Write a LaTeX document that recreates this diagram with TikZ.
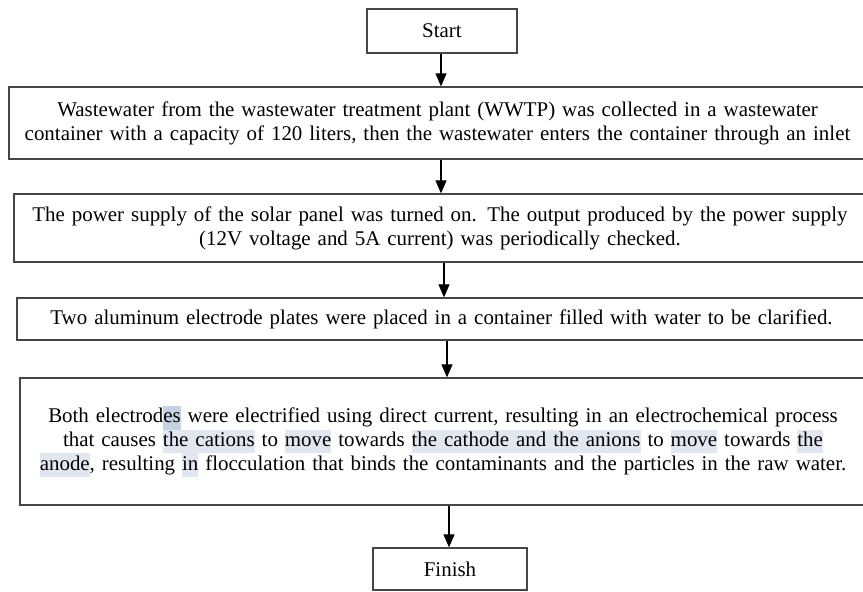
\documentclass[tikz,border=0pt]{standalone}
\usepackage{fontspec}
\setmainfont{Liberation Serif}
\usetikzlibrary{arrows.meta}
\definecolor{hlblue}{RGB}{224,231,240}
\definecolor{hldark}{RGB}{196,210,228}
\definecolor{boxline}{RGB}{70,70,70}
\newcommand{\hlword}[2][hlblue]{{\setlength{\fboxsep}{0pt}\colorbox{#1}{\strut #2}}}

\begin{document}
\begin{tikzpicture}[x=1bp, y=-1bp]
		\tikzset{stepbox/.style={shape = rectangle, draw = boxline, line width = 1.3bp, align = center, inner sep = 1bp,
				font = \fontsize{21}{24}\selectfont}}
		\tikzset{flow/.style={-{Triangle[length = 13bp, width = 11bp]}, line width = 1.1bp}}
		\useasboundingbox (0, 0) rectangle (863, 592);
		%boxes
		\node[stepbox, minimum width = 150bp, minimum height = 44bp] (start) at (442, 31) {Start};
		\node[stepbox, minimum width = 857bp, minimum height = 72bp, text width = 855bp] (collect) at (437.5, 123)
			{Wastewater from the wastewater treatment plant (WWTP) was collected in a wastewater\\
			container with a capacity of 120 liters, then the wastewater enters the container through an inlet};
		\node[stepbox, minimum width = 852bp, minimum height = 68bp, text width = 850bp] (power) at (440, 228)
			{The power supply of the solar panel was turned on. The output produced by the power supply\\
			(12V voltage and 5A current) was periodically checked.};
		\node[stepbox, minimum width = 849bp, minimum height = 42bp, text width = 847bp] (plates) at (441.5, 319)
			{Two aluminum electrode plates were placed in a container filled with water to be clarified.};
		\node[stepbox, minimum width = 846bp, minimum height = 127bp, text width = 844bp] (electro) at (443, 441.5)
			{Both electrod\hlword[hldark]{es} were electrified using direct current, resulting in an electrochemical process\\
			that causes \hlword{the cations} to \hlword{move} towards \hlword{the cathode and the anions} to \hlword{move} towards \hlword{the}\\
			\hlword{anode}, resulting \hlword{in} flocculation that binds the contaminants and the particles in the raw water.};
		\node[stepbox, minimum width = 154bp, minimum height = 42bp] (finish) at (450, 569) {Finish};
		%arrows
		\coordinate (a1) at (441, 0);
		\coordinate (a2) at (441, 0);
		\coordinate (a3) at (444, 0);
		\coordinate (a4) at (447, 0);
		\coordinate (a5) at (449, 0);
		\draw[flow] (a1 |- start.south) -- (a1 |- collect.north);
		\draw[flow] (a2 |- collect.south) -- (a2 |- power.north);
		\draw[flow] (a3 |- power.south) -- (a3 |- plates.north);
		\draw[flow] (a4 |- plates.south) -- (a4 |- electro.north);
		\draw[flow] (a5 |- electro.south) -- (a5 |- finish.north);
\end{tikzpicture}
\end{document}
